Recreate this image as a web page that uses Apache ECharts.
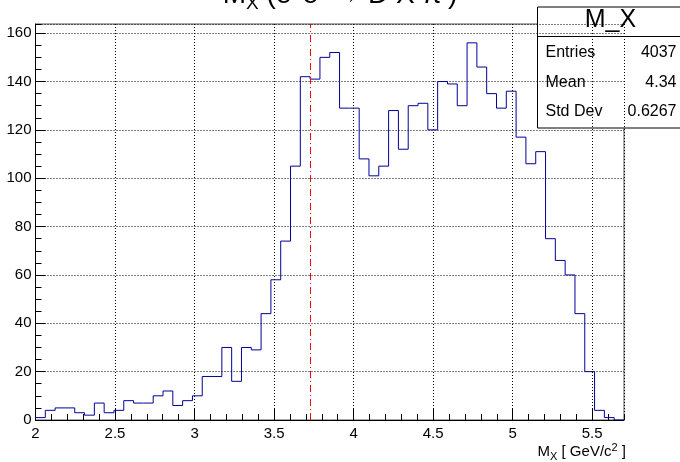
<!DOCTYPE html>
<html>
<head>
<meta charset="utf-8">
<script src="https://cdn.jsdelivr.net/npm/echarts@6/dist/echarts.min.js"></script>
<style>
html, body { margin: 0; padding: 0; background: #fff; }
#main { width: 680px; height: 462px; }
</style>
</head>
<body>
<div id="main"></div>
<script>
// histogram binning
var xMin = 2;
var xMax = 5.7;
var nBins = 60;
var yMax = 163.8;
// bin contents
var counts = [
  1, 4, 5, 5, 3, 2, 7, 3, 4, 8,
  7, 7, 10, 12, 6, 8, 10, 18, 18, 30,
  16, 30, 29, 44, 58, 74, 105, 142, 141, 150,
  152, 129, 129, 108, 101, 105, 128, 112, 130, 131,
  120, 140, 139, 130, 156, 146, 135, 129, 136, 117,
  106, 111, 75, 66, 60, 44, 20, 4, 1, 0
];
var thresholdMass = 3.73;
// stats box
var statsName = 'M_X';
var statsLabels = ['Entries', 'Mean', 'Std Dev'];
var statsValues = ['4037', '4.34', '0.6267'];

var FONT = 'Liberation Sans';

// bin edges -> step line points
function histPoints() {
  var w = (xMax - xMin) / nBins;
  var pts = [];
  for (var i = 0; i < nBins; i++) {
    pts.push([xMin + i * w, counts[i]]);
  }
  pts.push([xMax, counts[nBins - 1]]);
  return pts;
}

var dotted = {show: true, lineStyle: {color: '#000', width: 1, type: [1, 2]}};

function richText(size, small, lh, slh) {
  var base = {fontFamily: FONT, fontWeight: 'normal', color: '#000'};
  return {
    m: {...base, fontSize: size, lineHeight: lh},
    sub: {...base, fontSize: small, lineHeight: slh, verticalAlign: 'bottom'},
    sup: {...base, fontSize: small, lineHeight: slh, verticalAlign: 'top'}
  };
}

// minor tick axis (no line, no labels)
function minorAxis(pos, max, step) {
  return {
    type: 'value', min: pos === 'bottom' ? xMin : 0, max: max, interval: step, position: pos,
    axisLine: {show: false},
    axisTick: {show: true, inside: true, length: 6, lineStyle: {color: '#000'}},
    axisLabel: {show: false},
    splitLine: {show: false}
  };
}

function statsBox() {
  var children = [
    {type: 'rect', shape: {x: 0, y: 0, width: 150, height: 121},
      style: {fill: '#fff', stroke: '#000', lineWidth: 1}},
    {type: 'line', shape: {x1: 0, y1: 29.5, x2: 150, y2: 29.5},
      style: {stroke: '#000', lineWidth: 1}},
    {type: 'text', x: 73, y: 13, style: {text: statsName, font: '25px "' + FONT + '"',
      fill: '#000', align: 'center', verticalAlign: 'middle'}}
  ];
  for (var i = 0; i < statsLabels.length; i++) {
    var cy = 46 + i * 29.3;
    children.push({type: 'text', x: 8, y: cy, style: {text: statsLabels[i],
      font: '16px "' + FONT + '"', fill: '#000', verticalAlign: 'middle'}});
    children.push({type: 'text', x: 139, y: cy, style: {text: statsValues[i],
      font: '16px "' + FONT + '"', fill: '#000', align: 'right', verticalAlign: 'middle'}});
  }
  return {type: 'group', left: 535, top: 6.5, children: children};
}

var option = {
  animation: false,
  backgroundColor: '#fff',
  title: {
    text: '{m|M}{sub|X}{m| (e}{sup|+}{m|e}{sup|-}{m| \u2192 D X \u03c0}{sup|-}{m|)}',
    left: 'center',
    top: -23,
    padding: 0,
    textStyle: {fontWeight: 'normal', rich: richText(28, 19, 36, 20)}
  },
  grid: {left: 35.5, right: 56, top: 24, bottom: 40.5, show: true,
    borderColor: '#555', borderWidth: 1},
  xAxis: [{
    type: 'value', min: xMin, max: xMax, interval: 0.5, position: 'bottom',
    axisLine: {show: true, onZero: false, lineStyle: {color: '#000'}},
    axisTick: {show: true, inside: true, length: 11, lineStyle: {color: '#000'}},
    axisLabel: {color: '#000', fontFamily: FONT, fontSize: 15, margin: 6, showMaxLabel: false},
    splitLine: dotted,
    name: '{m|M}{sub|X}{m| [ GeV/c}{sup|2}{m| ]}',
    nameLocation: 'end',
    nameGap: 2,
    nameTextStyle: {
      align: 'right', verticalAlign: 'top', padding: [22, 0, 0, 0],
      rich: richText(15, 11, 20, 12)
    }
  }, minorAxis('bottom', xMax, 0.1)],
  yAxis: [{
    type: 'value', min: 0, max: yMax, interval: 20, position: 'left',
    axisLine: {show: true, lineStyle: {color: '#000'}},
    axisTick: {show: true, inside: true, length: 10, lineStyle: {color: '#000'}},
    axisLabel: {color: '#000', fontFamily: FONT, fontSize: 15, margin: 4, showMaxLabel: false},
    splitLine: dotted
  }, minorAxis('left', yMax, 5)],
  series: [{
    type: 'line',
    xAxisIndex: 0,
    yAxisIndex: 0,
    step: 'end',
    symbol: 'none',
    data: histPoints(),
    lineStyle: {color: '#000099', width: 1},
    markLine: {
      silent: true,
      symbol: 'none',
      label: {show: false},
      lineStyle: {color: '#ff0000', width: 1, type: [7, 3, 1, 3]},
      data: [{xAxis: thresholdMass}]
    }
  }],
  graphic: [statsBox()]
};

var chart = echarts.init(document.getElementById('main'));
chart.setOption(option);
</script>
</body>
</html>
